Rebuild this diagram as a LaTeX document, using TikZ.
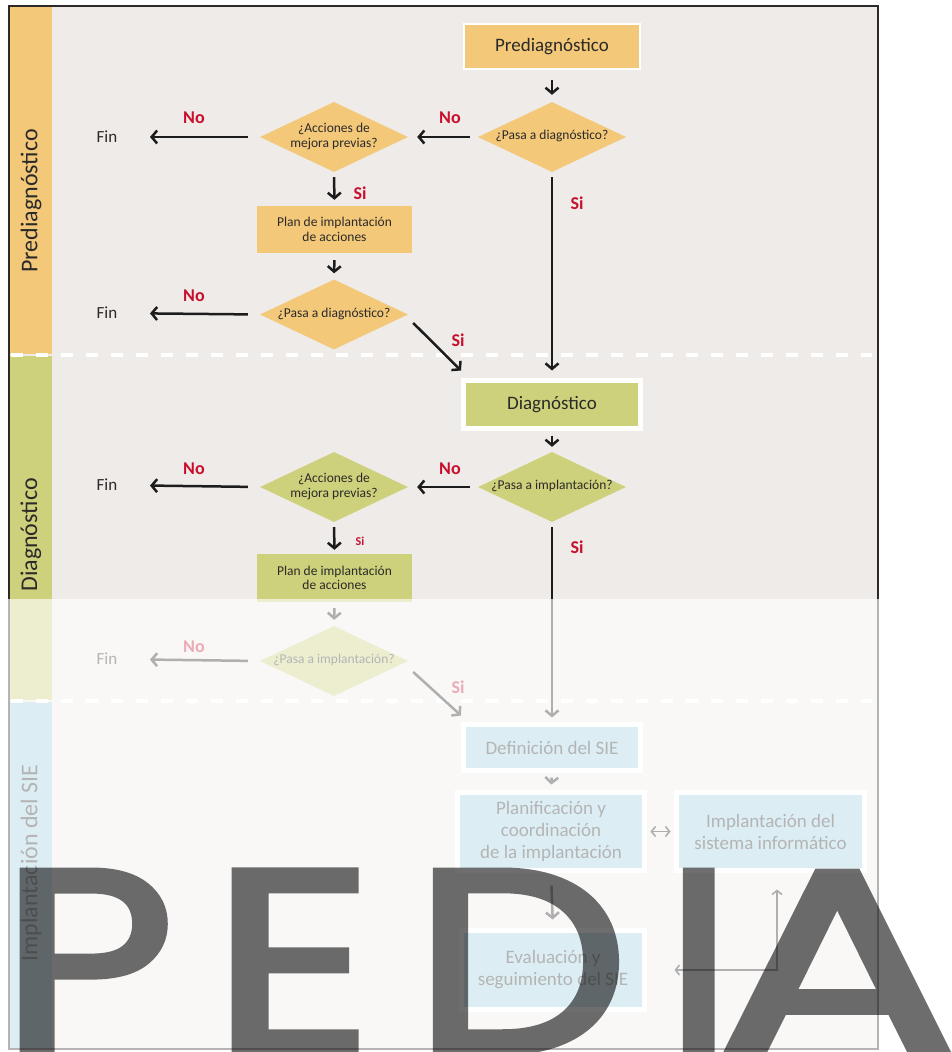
\documentclass[tikz,border=0pt]{standalone}
\usepackage{fontspec}
\setmainfont{Carlito}
\newfontfamily\wmfont[FakeBold=2.5]{Poppins}
\usetikzlibrary{shapes.geometric,arrows.meta,calc}
\definecolor{bgc}{HTML}{EFEBE8}
\definecolor{orng}{HTML}{F3C879}
\definecolor{grn}{HTML}{CED17B}
\definecolor{blu}{HTML}{9BCEE0}
\definecolor{redc}{HTML}{C8102E}
\definecolor{txt}{HTML}{2B2A29}
\definecolor{arrc}{HTML}{1C1C1C}
\newcommand\fs[2]{\fontsize{#1}{#2}\selectfont}
\newcommand\zb[1]{\makebox[0pt]{\raisebox{-.25em}[0pt][0pt]{\begin{tabular}[c]{@{}c@{}}#1\end{tabular}}}}
\begin{document}
\begin{tikzpicture}[x=1pt,y=-1pt,
  box/.style={rectangle, inner sep=0pt, align=center, text=txt},
  dia/.style={diamond, inner sep=0pt, minimum width=148pt, minimum height=70pt, text=txt, font=\fs{13.5}{15}},
  arr/.style={draw=arrc, line width=2.5pt, -{Straight Barb[length=5.5pt,width=13pt]}},
  thinarr/.style={draw=arrc, line width=1.6pt},
  lbl/.style={font=\fs{18}{20}\bfseries, text=redc, inner sep=0pt},
  fin/.style={font=\fs{17}{19}, text=txt, inner sep=0pt},
  band/.style={rotate=90, font=\fs{24}{28}, text=txt, inner sep=0pt},
  wm/.style={font=\wmfont\fs{260}{260}, text=black, inner sep=0pt, anchor=base west}]
\useasboundingbox (0,0) rectangle (951,1052);
% background and bands
\fill[bgc] (9,6) rectangle (878,1049);
\fill[orng] (9,6) rectangle (52,354);
\fill[grn] (9,356) rectangle (52,700);
\fill[blu] (9,702) rectangle (52,1049);
\draw[white, line width=4pt, dash pattern=on 12pt off 13pt] (11,355) -- (872,355);
\draw[white, line width=4pt, dash pattern=on 12pt off 13pt] (11,701) -- (872,701);
\draw[draw=txt, line width=1.2pt] (9,6) rectangle (878,1049);
\node[band] (b1) at (31,201) {Prediagnóstico};
\node[band] (b2) at (31,535) {Diagnóstico};
\node[band] (b3) at (31,863) {Implantación del SIE};
% prediagnostico
\node[box, fill=orng, draw=white, line width=1.5pt, minimum width=176pt, minimum height=45pt, font=\fs{19}{22}] (pre) at (552,46.5) {Prediagnóstico};
\node[dia, fill=orng] (d1) at (552,137) {\zb{¿Pasa a diagnóstico?}};
\node[dia, fill=orng] (d2) at (334,137) {\zb{¿Acciones de\\mejora previas?}};
\node[box, fill=orng, minimum width=155pt, minimum height=47pt, font=\fs{13.5}{14.5}] (p1) at (334.5,229.5) {Plan de implantación\\de acciones};
\node[dia, fill=orng] (d3) at (334,314.5) {\zb{¿Pasa a diagnóstico?}};
\node[fin] (f1) at (107,137) {Fin};
\node[fin] (f2) at (107,313) {Fin};
% diagnostico
\node[box, fill=grn, draw=white, line width=5pt, minimum width=177pt, minimum height=48pt, font=\fs{19}{22}] (diag) at (552,404.5) {Diagnóstico};
\node[dia, fill=grn] (d4) at (552,487) {\zb{¿Pasa a implantación?}};
\node[dia, fill=grn] (d5) at (334,487) {\zb{¿Acciones de\\mejora previas?}};
\node[box, fill=grn, minimum width=155pt, minimum height=48pt, font=\fs{13.5}{14.5}] (p2) at (334.5,578) {Plan de implantación\\de acciones};
\node[dia, fill=grn] (d6) at (334,661) {\zb{¿Pasa a implantación?}};
\node[fin] (f3) at (107,485) {Fin};
\node[fin] (f4) at (107,659) {Fin};
% implantacion
\node[box, fill=blu, draw=white, line width=5pt, minimum width=177pt, minimum height=46pt, font=\fs{19}{22}] (def) at (552,747.5) {Definición del SIE};
\node[box, fill=blu, draw=white, line width=5pt, minimum width=187pt, minimum height=78pt, font=\fs{19}{22}] (plan) at (551,831.5) {Planificación y\\coordinación\\de la implantación};
\node[box, fill=blu, draw=white, line width=5pt, minimum width=188pt, minimum height=78pt, font=\fs{19}{22}] (impl) at (770.5,831.5) {Implantación del\\sistema informático};
\node[box, fill=blu, draw=white, line width=5pt, minimum width=183pt, minimum height=79pt, font=\fs{19}{22}] (eval) at (553,970) {Evaluación y\\seguimiento del SIE};
% connectors
\draw[arr, shorten <=10pt, shorten >=7pt] (pre.south) -- (d1.north);
\draw[arr, shorten <=8pt, shorten >=9pt] (d1.west) -- (d2.east);
\draw[arr, shorten <=12pt, shorten >=43pt] (d2.west) -- (f1.center);
\draw[arr, shorten <=5pt, shorten >=6pt] (d2.south) -- (p1.north);
\draw[arr, shorten <=7pt, shorten >=6pt] (p1.south) -- (d3.north);
\draw[arr, shorten <=12pt, shorten >=43pt] (d3.west) -- (f2.center);
\draw[arr] ($(d3.east)+(5,8.5)$) -- ($(diag.north west)+(0,-7.5)$);
\draw[arr, shorten <=5pt, shorten >=7.5pt] (d1.south) -- (diag.north);
\draw[arr, shorten <=4.5pt, shorten >=5pt] (diag.south) -- (d4.north);
\draw[arr, shorten <=8pt, shorten >=9pt] (d4.west) -- (d5.east);
\draw[arr, shorten <=12pt, shorten >=43pt] (d5.west) -- (f3.center);
\draw[arr, shorten <=5pt, shorten >=4pt] (d5.south) -- (p2.north);
\draw[arr, shorten <=6pt, shorten >=6pt] (p2.south) -- (d6.north);
\draw[arr, shorten <=12pt, shorten >=43pt] (d6.west) -- (f4.center);
\draw[arr] ($(d6.east)+(5,11)$) -- ($(def.north west)+(0,-6.5)$);
\draw[arr, shorten <=5pt, shorten >=4.5pt] (d4.south) -- (def.north);
\draw[arr, shorten <=4.5pt, shorten >=5.5pt] (def.south) -- (plan.north);
\draw[arr, shorten <=12.5pt, shorten >=8.5pt] (plan.south) -- (eval.north);
\draw[thinarr, {Straight Barb[length=4pt,width=10pt]}-{Straight Barb[length=4pt,width=10pt]}, shorten <=3.5pt, shorten >=3.5pt] (plan.east) -- (impl.west);
\draw[thinarr, {Straight Barb[length=4pt,width=10pt]}-{Straight Barb[length=4pt,width=10pt]}] ($(eval.east)+(27.5,0)$) -| ($(impl.south)+(6.5,16.5)$);
% labels
\node[lbl] (n1) at (450,118) {No};
\node[lbl] (n2) at (194,118) {No};
\node[lbl] (s1) at (360,193) {Si};
\node[lbl] (n3) at (194,296) {No};
\node[lbl] (s2) at (458,340) {Si};
\node[lbl] (s3) at (577,203) {Si};
\node[lbl] (n4) at (450,469) {No};
\node[lbl] (n5) at (194,469) {No};
\node[lbl, font=\fs{12}{14}\bfseries] (s4) at (360,541) {Si};
\node[lbl] (n6) at (194,647) {No};
\node[lbl] (s5) at (458,687) {Si};
\node[lbl] (s6) at (577,547) {Si};
% fade overlay
\fill[white, fill opacity=0.65] (0,599) rectangle (951,1052);
% watermark
\begin{scope}[transparency group, opacity=0.57]
\node[wm, xscale=1.16] (wP) at (0,1052) {P};
\node[wm, xscale=1.22] (wE) at (211,1052) {E};
\node[wm, xscale=1.17] (wD) at (413,1052) {D};
\node[wm, xscale=1.05] (wI) at (665,1052) {I};
\node[wm, xscale=1.38] (wA) at (716,1052) {A};
\end{scope}
\end{tikzpicture}
\end{document}
